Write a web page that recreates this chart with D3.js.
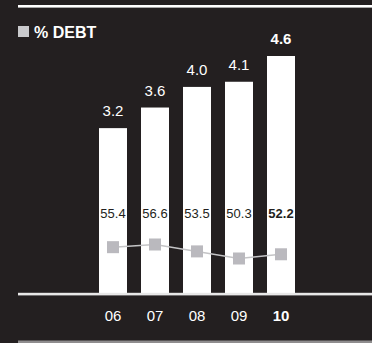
<!DOCTYPE html>
<html>
<head>
<meta charset="utf-8">
<script src="https://cdn.jsdelivr.net/npm/d3@7"></script>
<style>
  html, body { margin: 0; padding: 0; background: #231f20; }
  svg { display: block; }
  text { font-family: "Liberation Sans", Arial, Helvetica, sans-serif; }
</style>
</head>
<body>
<svg id="chart" width="372" height="343"></svg>
<script>
// Debt (bars) and debt as a percentage (markers), by year
const years = ["06", "07", "08", "09", "10"];
const debt = [3.2, 3.6, 4.0, 4.1, 4.6];
const debtPct = [55.4, 56.6, 53.5, 50.3, 52.2];
const highlightYear = "10";

const W = 372, H = 343;
const bg = "#231f20";
const svg = d3.select("#chart");

svg.append("rect").attr("width", W).attr("height", H).attr("fill", bg);

// Band scale for years: bars 28px wide on a 42px pitch
const x = d3.scaleBand().domain(years).range([92, 302]).paddingInner(1 / 3).paddingOuter(1 / 6);

// Bar height scale, zero-based
const y = d3.scaleLinear().domain([0, 4.6]).range([293, 56]);

// Percentage marker scale
const yPct = d3.scaleLinear().domain([50.3, 56.6]).range([258.5, 244.5]);

// Top rule
svg.append("rect").attr("x", 18).attr("y", 5).attr("width", W - 18).attr("height", 2.6).attr("fill", "#ffffff");

// Legend
svg.append("rect").attr("x", 18).attr("y", 26).attr("width", 11).attr("height", 11).attr("fill", "#c9c9cc");
svg.append("text").attr("x", 34).attr("y", 37.8).attr("fill", "#ffffff")
  .attr("font-size", 16).attr("font-weight", "bold").text("% DEBT");

// Bars
svg.selectAll("rect.bar").data(years).join("rect")
  .attr("class", "bar")
  .attr("x", d => x(d))
  .attr("y", (d, i) => y(debt[i]))
  .attr("width", x.bandwidth())
  .attr("height", (d, i) => y(0) - y(debt[i]))
  .attr("fill", "#ffffff");

// Bar value labels
svg.selectAll("text.val").data(years).join("text")
  .attr("class", "val")
  .attr("x", d => x(d) + x.bandwidth() / 2)
  .attr("y", (d, i) => y(debt[i]) - 12)
  .attr("text-anchor", "middle")
  .attr("fill", "#ffffff")
  .attr("font-size", 15)
  .attr("font-weight", d => d === highlightYear ? "bold" : "normal")
  .text((d, i) => debt[i].toFixed(1));

// Percentage labels inside bars
svg.selectAll("text.pct").data(years).join("text")
  .attr("class", "pct")
  .attr("x", d => x(d) + x.bandwidth() / 2)
  .attr("y", 218)
  .attr("text-anchor", "middle")
  .attr("fill", bg)
  .attr("font-size", 13)
  .attr("font-weight", d => d === highlightYear ? "bold" : "normal")
  .text((d, i) => debtPct[i].toFixed(1));

// Percentage line and markers
const line = d3.line()
  .x((d, i) => x(years[i]) + x.bandwidth() / 2)
  .y(d => yPct(d));
svg.append("path").datum(debtPct)
  .attr("d", line)
  .attr("fill", "none")
  .attr("stroke", "#c4c4c6")
  .attr("stroke-width", 1.5);

svg.selectAll("rect.mark").data(debtPct).join("rect")
  .attr("class", "mark")
  .attr("x", (d, i) => x(years[i]) + x.bandwidth() / 2 - 6)
  .attr("y", d => yPct(d) - 6)
  .attr("width", 12)
  .attr("height", 12)
  .attr("fill", "#bab9be");

// Baseline
svg.append("rect").attr("x", 18).attr("y", 292.8).attr("width", W - 18).attr("height", 2.6).attr("fill", "#e8e8e8");

// Year axis
const axis = svg.append("g").attr("transform", "translate(0,321)")
  .call(d3.axisBottom(x).tickSize(0).tickPadding(0));
axis.select(".domain").remove();
axis.selectAll("text")
  .attr("dy", 0)
  .attr("y", 0)
  .attr("fill", "#ffffff")
  .attr("font-size", 15)
  .attr("font-family", "Liberation Sans, Arial, sans-serif")
  .attr("font-weight", d => d === highlightYear ? "bold" : "normal");

// Bottom rule
svg.append("rect").attr("x", 18).attr("y", 340.5).attr("width", W - 18).attr("height", 2.5).attr("fill", "#8f8d8e");
</script>
</body>
</html>
